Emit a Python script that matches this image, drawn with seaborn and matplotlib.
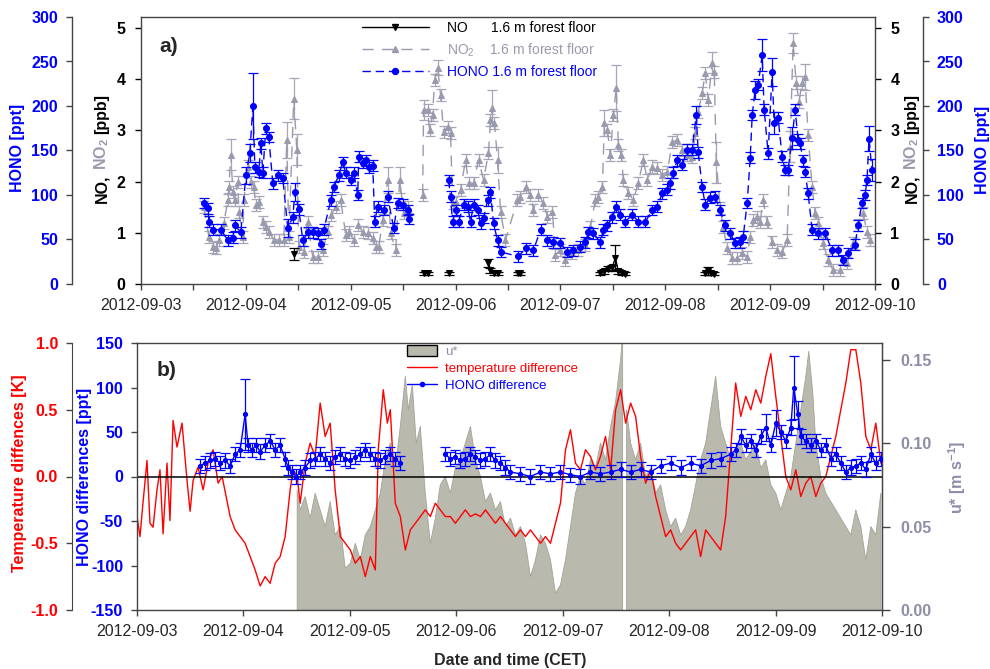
import numpy as np
import pandas as pd
import matplotlib
matplotlib.use("Agg")
import matplotlib.pyplot as plt
import matplotlib.dates as mdates
from matplotlib.lines import Line2D
from matplotlib.patches import Patch
import seaborn as sns

START = pd.Timestamp("2012-09-03")

# ---------------- panel a) data (time in days since 2012-09-03 00:00 CET) ----------------
HONO_T = [0.600,0.638,0.648,0.686,0.762,0.829,0.876,0.895,0.952,1.000,1.038,1.067,1.086,1.124,1.143,1.162,1.190,1.219,
          1.257,1.305,1.352,1.400,1.448,1.467,1.505,1.543,1.590,1.638,1.686,1.714,1.743,1.810,1.838,1.886,1.924,1.952,
          2.000,2.029,2.067,2.076,2.114,2.143,2.171,2.210,2.229,2.257,2.314,2.352,2.410,2.448,2.495,2.543,2.552,
          2.933,2.952,2.971,3.000,3.029,3.076,3.114,3.143,3.171,3.210,3.238,3.267,3.305,3.333,3.362,3.400,3.429,
          3.600,3.667,3.743,3.810,3.876,3.933,4.000,4.067,4.124,
          4.190,4.238,4.267,4.314,4.381,4.410,4.448,4.495,4.533,4.571,4.619,4.686,4.743,4.810,4.876,4.924,4.971,
          5.019,5.048,5.076,5.114,5.162,5.210,5.257,5.295,5.314,5.352,5.381,5.429,5.476,5.524,5.571,5.619,5.667,5.714,5.743,
          5.781,5.810,5.829,5.857,5.886,5.924,5.943,5.981,6.019,6.038,6.076,6.114,6.143,6.171,6.210,6.238,6.267,6.286,
          6.314,6.333,6.362,6.400,
          6.457,6.524,6.590,6.648,6.695,6.743,6.810,6.838,6.876,6.905,6.924,6.943,6.971]
HONO_V = [91,85,70,61,61,49,52,66,58,122,147,200,131,126,158,125,175,165,
          113,122,119,63,75,103,84,49,58,58,57,45,61,94,109,122,137,125,
          117,125,100,143,136,139,131,133,70,87,83,98,63,91,89,83,73,
          117,98,70,83,70,89,87,70,89,83,68,74,94,103,68,49,36,
          31,40,38,61,49,47,46,36,38,
          42,47,58,57,47,61,66,75,87,78,70,78,70,70,83,87,102,
          106,113,125,139,134,151,151,190,148,109,89,97,98,83,66,57,46,47,53,
          91,142,190,218,224,257,196,147,238,181,187,143,128,128,164,196,162,158,
          139,126,102,61,
          57,57,38,38,27,35,44,66,91,100,117,163,128]
HONO_ERR_DEFAULT = 6
HONO_ERR_LARGE = {1.067: 37, 1.000: 10, 1.038: 10, 1.400: 10, 1.467: 10, 5.295: 10, 5.857: 10,
                  5.924: 18, 6.019: 16, 6.038: 12, 6.210: 12, 6.943: 14, 6.971: 12}

NO2_T = [0.600,0.648,0.686,0.714,0.743,0.790,0.829,0.838,0.857,0.876,0.895,0.924,0.933,0.971,0.981,1.019,1.048,1.076,
         1.095,1.124,1.162,1.190,1.219,1.267,1.314,1.362,1.390,1.410,1.457,1.486,1.505,1.552,1.590,1.638,1.686,1.733,
         1.781,1.810,1.857,1.905,1.952,1.981,2.029,2.067,2.114,2.162,2.210,2.238,2.267,2.305,2.352,2.381,2.429,2.467,
         2.505,2.543,
         2.686,2.695,2.733,2.752,2.781,2.800,2.829,2.857,2.886,2.924,2.952,2.971,3.000,3.048,3.095,3.124,3.171,3.219,
         3.267,3.314,3.333,3.352,3.371,3.400,3.429,3.476,3.590,3.619,3.667,3.714,3.743,3.790,3.838,3.876,3.924,3.952,
         4.000,4.048,4.114,4.171,4.238,4.286,4.333,4.362,4.400,4.419,4.448,4.476,4.505,4.533,4.552,4.581,4.600,4.648,
         4.695,4.743,4.790,4.829,4.876,4.924,4.971,5.019,5.067,5.114,5.162,5.210,5.257,5.286,5.314,5.352,5.381,5.410,
         5.448,5.467,5.486,5.524,5.552,5.590,5.638,5.686,5.733,5.781,5.810,5.838,5.876,5.905,5.933,5.971,6.019,6.067,
         6.114,6.162,6.190,6.219,6.248,6.276,6.305,6.333,6.362,6.400,6.429,6.457,6.505,6.552,6.600,6.667,6.733,6.790,
         6.838,6.886,6.924,6.952]
NO2_V = [1.50,0.92,0.72,0.70,0.86,1.19,1.64,1.89,2.52,1.80,1.64,1.99,1.41,0.92,1.64,2.29,1.99,1.89,
         1.54,1.60,1.21,1.11,1.02,0.86,0.86,0.86,2.81,0.92,3.61,2.62,0.72,0.62,1.21,0.53,0.53,0.66,
         1.02,1.35,1.50,1.64,0.96,1.02,0.86,1.15,1.02,0.99,0.90,0.72,0.72,1.25,2.03,0.99,0.66,2.03,
         1.39,1.50,
         1.74,3.40,3.40,3.01,3.30,3.98,4.22,3.69,2.97,3.07,2.95,1.58,1.60,1.84,2.42,1.97,1.97,2.42,
         2.03,2.56,3.20,3.44,3.14,2.42,1.41,0.86,1.64,1.70,1.89,1.74,1.45,1.74,1.58,1.31,1.41,0.57,
         0.66,0.47,0.61,0.66,0.76,1.11,1.64,1.70,1.89,3.14,3.01,2.52,3.30,3.83,2.71,2.52,2.03,1.78,
         1.64,1.97,2.42,2.03,2.29,2.27,2.13,2.19,2.77,2.81,2.62,2.52,2.48,2.95,3.36,3.73,4.12,3.59,
         4.32,4.14,2.38,1.48,1.11,0.70,0.51,0.51,0.61,0.53,0.92,1.25,1.31,1.21,1.64,1.21,0.82,0.66,
         0.62,0.86,2.68,4.70,3.93,3.56,3.93,4.04,2.91,1.89,1.39,1.19,0.80,0.47,0.27,0.27,0.41,0.80,
         1.15,1.39,1.02,0.86]
NO2_ERR_DEFAULT = 0.12
NO2_ERR_LARGE = {0.857: 0.30, 1.390: 0.35, 1.457: 0.40, 1.486: 0.30, 2.352: 0.25, 2.467: 0.25,
                 2.695: 0.20, 2.829: 0.15, 3.352: 0.35, 3.400: 0.25, 4.419: 0.25, 4.533: 0.45,
                 5.448: 0.20, 5.486: 0.40, 6.190: 0.30, 6.219: 0.20, 6.333: 0.25}

NO_T = [1.457, 2.695, 2.733, 2.933, 3.314, 3.333, 3.362, 3.400, 3.600, 3.619,
        4.381, 4.419, 4.457, 4.495, 4.524, 4.552, 4.590, 4.619, 5.381, 5.410, 5.438, 5.467]
NO_V = [0.59, 0.21, 0.21, 0.21, 0.41, 0.27, 0.21, 0.21, 0.21, 0.21,
        0.21, 0.25, 0.30, 0.33, 0.51, 0.25, 0.21, 0.20, 0.21, 0.25, 0.21, 0.20]
NO_ERR = [0.12, 0.03, 0.03, 0.03, 0.08, 0.05, 0.03, 0.03, 0.03, 0.03,
          0.03, 0.05, 0.05, 0.05, 0.25, 0.05, 0.04, 0.03, 0.03, 0.08, 0.03, 0.03]

# ---------------- panel b) data ----------------
TD_T = [0.000,0.028,0.056,0.094,0.122,0.151,0.188,0.216,0.245,0.282,0.310,0.339,0.376,0.423,0.470,0.499,0.527,0.574,
        0.621,0.668,0.715,0.762,0.800,0.837,0.875,0.922,0.969,1.016,1.063,1.110,1.157,1.204,1.251,1.298,1.345,1.392,
        1.439,1.467,1.505,1.533,1.580,1.627,1.674,1.721,1.768,1.815,1.862,1.910,1.957,2.004,2.051,2.098,2.145,2.192,
        2.239,2.267,2.314,2.352,2.380,2.427,2.474,2.521,2.568,2.615,2.662,2.709,2.756,2.803,2.850,2.897,2.944,2.991,
        3.038,3.085,3.133,3.180,3.227,3.274,3.321,3.368,3.415,3.462,3.509,3.556,3.603,3.650,3.697,3.744,3.791,3.838,
        3.885,3.932,3.979,4.026,4.073,4.120,4.167,4.214,4.261,4.308,4.355,4.402,4.450,4.497,4.544,4.591,4.638,4.685,
        4.732,4.779,4.826,4.873,4.920,4.967,5.014,5.061,5.108,5.155,5.202,5.249,5.296,5.343,5.390,5.437,5.484,5.531,
        5.578,5.625,5.673,5.720,5.767,5.814,5.861,5.908,5.955,6.002,6.049,6.096,6.143,6.190,6.237,6.284,6.331,6.378,
        6.425,6.472,6.519,6.566,6.613,6.660,6.707,6.754,6.801,6.848,6.895,6.942,6.989]
TD_V = [-0.30,-0.45,-0.20,0.12,-0.35,-0.38,-0.10,0.05,-0.43,0.10,-0.33,0.42,0.22,0.40,-0.03,-0.26,-0.03,0.07,
        -0.10,0.10,0.20,-0.05,0.00,-0.15,-0.30,-0.40,-0.45,-0.50,-0.60,-0.70,-0.82,-0.75,-0.80,-0.65,-0.60,-0.45,
        -0.10,0.05,0.00,-0.20,0.10,0.25,0.15,0.55,0.30,0.40,-0.10,-0.45,-0.50,-0.55,-0.65,-0.60,-0.75,-0.60,
        -0.70,0.20,0.65,0.40,0.50,-0.20,-0.30,-0.55,-0.40,-0.35,-0.30,-0.25,-0.30,-0.20,-0.25,-0.30,-0.30,-0.35,
        -0.30,-0.25,-0.30,-0.28,-0.30,-0.25,-0.30,-0.35,-0.30,-0.35,-0.40,-0.45,-0.40,-0.45,-0.40,-0.45,-0.50,-0.45,
        -0.50,-0.35,-0.20,0.20,0.35,0.10,0.05,0.20,0.15,0.05,0.15,0.30,0.05,0.50,0.65,0.40,0.55,0.45,
        0.15,-0.05,0.05,-0.15,-0.30,-0.45,-0.40,-0.50,-0.55,-0.50,-0.45,-0.40,-0.60,-0.40,-0.45,-0.50,-0.55,-0.30,
        0.20,0.70,0.45,0.60,0.50,0.65,0.55,0.75,0.92,0.60,0.30,0.00,-0.10,0.05,-0.15,-0.05,0.00,-0.15,
        -0.05,0.00,0.15,0.30,0.50,0.70,0.95,0.95,0.70,0.30,0.20,0.40,0.10]

HD_T = [0.592,0.639,0.687,0.734,0.781,0.828,0.875,0.922,0.969,1.016,1.044,1.081,1.119,1.157,1.204,1.251,1.298,1.345,
        1.392,1.420,1.457,1.496,1.533,1.580,1.627,1.674,1.721,1.768,1.815,1.862,1.910,1.957,2.004,2.051,2.098,2.145,
        2.192,2.239,2.286,2.333,2.380,2.427,2.474,
        2.897,2.944,2.991,3.038,3.085,3.133,3.180,3.227,3.274,3.321,3.368,3.415,3.462,3.509,3.603,3.697,3.791,3.885,
        3.979,4.073,4.167,4.261,4.355,4.450,4.544,4.638,4.732,4.826,4.920,5.014,5.108,5.202,5.296,5.390,5.484,5.578,
        5.625,5.673,5.720,5.767,5.814,5.861,5.908,5.955,6.002,6.049,6.096,6.143,6.171,6.209,6.237,6.284,6.331,6.378,
        6.425,6.472,6.519,6.566,6.613,6.660,6.707,6.754,6.801,6.848,6.895,6.942,6.989]
HD_V = [12,15,18,20,15,18,12,25,30,70,35,30,35,28,35,40,30,35,
        20,10,5,0,5,10,18,20,25,20,15,22,25,20,18,22,25,30,
        25,20,18,22,25,20,15,
        25,20,22,18,20,25,22,18,20,25,18,15,10,5,3,0,5,3,
        5,2,0,5,3,5,8,5,8,5,12,15,10,15,12,18,20,25,
        30,45,35,40,30,45,55,35,60,50,40,55,100,70,45,40,35,40,
        30,35,20,25,15,5,10,12,15,8,25,15,20]
HD_ERR_DEFAULT = 8
HD_ERR_LARGE = {1.016: 40, 6.171: 35, 6.209: 15, 5.908: 15, 6.002: 15}

U_T = [1.505,1.533,1.580,1.627,1.674,1.721,1.768,1.815,1.862,1.910,1.957,2.004,2.051,2.098,2.145,2.192,2.239,2.286,
       2.333,2.380,2.427,2.474,2.521,2.549,2.587,2.624,2.662,2.709,2.756,2.803,2.850,2.897,2.944,2.991,3.038,3.085,
       3.133,3.180,3.227,3.274,3.321,3.368,3.415,3.462,3.509,3.556,3.603,3.650,3.697,3.744,3.791,3.838,3.885,3.932,
       3.979,4.026,4.073,4.120,4.167,4.214,4.261,4.308,4.355,4.402,4.450,4.497,4.544,4.563,4.582,4.600,4.638,4.685,
       4.732,4.779,4.826,4.873,4.920,4.967,5.014,5.061,5.108,5.155,5.202,5.249,5.296,5.343,5.390,5.437,5.484,5.531,
       5.578,5.625,5.673,5.720,5.767,5.814,5.861,5.908,5.955,6.002,6.049,6.096,6.143,6.190,6.237,6.284,6.312,6.350,
       6.378,6.425,6.472,6.519,6.566,6.613,6.660,6.707,6.754,6.801,6.848,6.895,6.942,6.989]
U_V = [0.072,0.060,0.068,0.055,0.070,0.060,0.050,0.065,0.045,0.050,0.025,0.028,0.040,0.030,0.045,0.050,0.060,0.070,
       0.090,0.100,0.085,0.110,0.140,0.120,0.135,0.100,0.110,0.070,0.040,0.055,0.075,0.080,0.070,0.085,0.090,0.100,
       0.110,0.090,0.080,0.065,0.070,0.060,0.065,0.050,0.055,0.045,0.050,0.040,0.020,0.030,0.045,0.040,0.030,0.010,
       0.015,0.030,0.050,0.070,0.080,0.075,0.090,0.085,0.100,0.090,0.110,0.125,0.150,0.165,np.nan,0.120,0.100,0.090,
       0.100,0.080,0.085,0.070,0.075,0.060,0.050,0.055,0.045,0.050,0.060,0.075,0.090,0.100,0.120,0.140,0.110,0.100,
       0.090,0.095,0.100,0.090,0.095,0.100,0.085,0.090,0.075,0.070,0.060,0.070,0.080,0.100,0.120,0.140,0.155,0.130,
       0.100,0.080,0.070,0.065,0.060,0.055,0.050,0.045,0.060,0.050,0.030,0.050,0.045,0.070]

# ---------------- style ----------------
sns.set_style("ticks")
plt.rcParams["font.family"] = ["Liberation Sans", "DejaVu Sans"]
plt.rcParams["mathtext.default"] = "regular"

BLUE = "#0000FF"
RED = "#FF0000"
GREY = "#9A9AAE"
GREY_ERR = "#A6A6B8"
UGREY = "#8E8EA8"
UFILL = "#B9B9AD"
SPINE = "#444444"

W, H = 990, 669
fig = plt.figure(figsize=(W / 100, H / 100), dpi=100)


def rect(l, t, r, b):
    return [l / W, 1 - b / H, (r - l) / W, (b - t) / H]


def to_time(days):
    return START + pd.to_timedelta(np.asarray(days, float), unit="D")


def seg_frame(t, v, gap):
    t = np.asarray(t, float)
    v = np.asarray(v, float)
    seg = np.concatenate([[0], np.cumsum(np.diff(t) > gap)])
    return pd.DataFrame({"time": to_time(t), "val": v, "seg": seg})


def errs(t, default, large):
    return np.array([large.get(round(x, 3), default) for x in t], float)


def px2pt(p):
    return p * 0.72


TICKFS = 11.5
MS = 4.3

# ======================= panel a =======================
ax1 = fig.add_axes(rect(141, 17, 875, 284))
axh = ax1.twinx()
# spine positions first (moving a spine resets its ticks)
axh.spines["left"].set_position(("outward", px2pt(141 - 72)))
axh.spines["right"].set_position(("outward", px2pt(923 - 875)))
axh.spines["top"].set_visible(False)
axh.spines["bottom"].set_visible(False)

# NO2
df = seg_frame(NO2_T, NO2_V, 0.13)
ax1.errorbar(df["time"], df["val"], yerr=errs(NO2_T, NO2_ERR_DEFAULT, NO2_ERR_LARGE), fmt="none",
             ecolor=GREY_ERR, elinewidth=0.9, capsize=3.5, capthick=0.9, zorder=2)
sns.lineplot(data=df, x="time", y="val", units="seg", estimator=None, ax=ax1, color=GREY, lw=1,
             linestyle=(0, (8, 6)), marker="^", markersize=MS, mec=GREY, mfc=GREY, legend=False, zorder=3)
# NO
df = seg_frame(NO_T, NO_V, 0.13)
ax1.errorbar(df["time"], df["val"], yerr=NO_ERR, fmt="none", ecolor="k", elinewidth=0.9,
             capsize=3.5, capthick=0.9, zorder=4)
sns.lineplot(data=df, x="time", y="val", units="seg", estimator=None, ax=ax1, color="k", lw=1,
             marker="v", markersize=MS, mec="k", mfc="k", legend=False, zorder=5)
# HONO
df = seg_frame(HONO_T, HONO_V, 0.3)
axh.errorbar(df["time"], df["val"], yerr=errs(HONO_T, HONO_ERR_DEFAULT, HONO_ERR_LARGE), fmt="none",
             ecolor=BLUE, elinewidth=0.9, capsize=3.5, capthick=0.9, zorder=2)
sns.lineplot(data=df, x="time", y="val", units="seg", estimator=None, ax=axh, color=BLUE, lw=1,
             linestyle=(0, (6, 3.5)), marker="o", markersize=MS, mec=BLUE, mfc=BLUE, legend=False, zorder=3)

for a in (ax1, axh):
    a.set_xlabel("")
    a.set_ylabel("")
ax1.set_xlim(START, START + pd.Timedelta(days=7))
ax1.set_ylim(0, 5.21)
axh.set_ylim(0, 300)

ax1.tick_params(axis="y", left=True, right=True, labelleft=True, labelright=True, direction="out",
                length=4, width=1, color="k", pad=7)
ax1.set_yticks(range(6), [str(i) for i in range(6)], fontweight="bold", fontsize=TICKFS, color="k")
ax1.xaxis.set_major_locator(mdates.DayLocator())
ax1.xaxis.set_minor_locator(mdates.HourLocator(byhour=[12]))
ax1.xaxis.set_major_formatter(mdates.DateFormatter("%Y-%m-%d"))
ax1.tick_params(axis="x", which="both", direction="out", length=4, width=1, color=SPINE,
                labelsize=TICKFS, pad=6)
for s in ax1.spines.values():
    s.set_color(SPINE)
    s.set_linewidth(1)

axh.tick_params(axis="y", left=True, right=True, labelleft=True, labelright=True, direction="out",
                length=4, width=1, color=SPINE, pad=6)
axh.set_yticks(range(0, 301, 50), [str(i) for i in range(0, 301, 50)], fontweight="bold",
               fontsize=TICKFS, color=BLUE)
for k in ("left", "right"):
    axh.spines[k].set_color(SPINE)
    axh.spines[k].set_linewidth(1)

# legend a
hands = [Line2D([], [], color="k", lw=1, marker="v", ms=MS),
         Line2D([], [], color=GREY, lw=1, ls=(0, (8, 6)), marker="^", ms=MS),
         Line2D([], [], color=BLUE, lw=1, ls=(0, (6, 3.5)), marker="o", ms=MS)]
labs = ["NO      1.6 m forest floor", "NO$_2$    1.6 m forest floor", "HONO 1.6 m forest floor"]
leg = axh.legend(hands, labs, loc="upper left", bbox_to_anchor=(362 / W, 1 - 21 / H),
                 bbox_transform=fig.transFigure, frameon=False, fontsize=10, handlelength=4.8,
                 handletextpad=1.3, labelspacing=0.45, borderpad=0, borderaxespad=0)
for t, c in zip(leg.get_texts(), ["k", GREY, BLUE]):
    t.set_color(c)

# ======================= panel b =======================
axb = fig.add_axes(rect(137, 343, 882, 610))
axt = axb.twinx()
axu = axb.twinx()
axt.spines["left"].set_position(("outward", px2pt(137 - 72)))
for k in ("right", "top", "bottom"):
    axt.spines[k].set_visible(False)
for k in ("left", "top", "bottom"):
    axu.spines[k].set_visible(False)
axu.set_zorder(1)
axt.set_zorder(2)
axb.set_zorder(3)
for a in (axb, axt, axu):
    a.patch.set_visible(False)

# u*
axu.fill_between(to_time(U_T), 0, np.asarray(U_V, float), facecolor=UFILL, edgecolor="#A3A398",
                 lw=0.6, zorder=1)
# temperature difference
sns.lineplot(x=to_time(TD_T), y=TD_V, ax=axt, color=RED, lw=1, estimator=None, legend=False)
# HONO difference
df = seg_frame(HD_T, HD_V, 0.3)
axb.axhline(0, color="k", lw=1.1, zorder=1)
axb.errorbar(df["time"], df["val"], yerr=errs(HD_T, HD_ERR_DEFAULT, HD_ERR_LARGE), fmt="none",
             ecolor=BLUE, elinewidth=0.9, capsize=3.5, capthick=0.9, zorder=2)
sns.lineplot(data=df, x="time", y="val", units="seg", estimator=None, ax=axb, color=BLUE, lw=1,
             marker="o", markersize=3, mec=BLUE, mfc=BLUE, legend=False, zorder=3)

for a in (axb, axt, axu):
    a.set_xlabel("")
    a.set_ylabel("")
axb.set_xlim(START, START + pd.Timedelta(days=7))
axb.set_ylim(-150, 150)
axt.set_ylim(-1, 1)
axu.set_ylim(0, 0.16)

axb.tick_params(axis="y", left=True, right=False, direction="out", length=4, width=1, color=SPINE, pad=6)
axb.set_yticks(range(-150, 151, 50), [str(i) for i in range(-150, 151, 50)], fontweight="bold",
               fontsize=TICKFS, color=BLUE)
axb.xaxis.set_major_locator(mdates.DayLocator())
axb.xaxis.set_major_formatter(mdates.DateFormatter("%Y-%m-%d"))
axb.tick_params(axis="x", direction="out", length=4, width=1, color=SPINE, labelsize=TICKFS, pad=6)
for s in axb.spines.values():
    s.set_color(SPINE)
    s.set_linewidth(1)

axt.yaxis.set_ticks_position("left")
axt.tick_params(axis="y", left=True, right=False, labelleft=True, labelright=False, direction="out",
                length=4, width=1, color=SPINE, pad=6)
axt.set_yticks([-1, -0.5, 0, 0.5, 1], ["-1.0", "-0.5", "0.0", "0.5", "1.0"], fontweight="bold",
               fontsize=TICKFS, color=RED)
axt.spines["left"].set_color(SPINE)

axu.tick_params(axis="y", right=True, left=False, direction="out", length=6, width=1, color=SPINE, pad=7)
axu.set_yticks([0, 0.05, 0.10, 0.15], ["0.00", "0.05", "0.10", "0.15"], fontweight="bold",
               fontsize=TICKFS, color=UGREY)
axu.spines["right"].set_color(SPINE)

# legend b
hands_b = [Patch(facecolor=UFILL, edgecolor="k", lw=1),
           Line2D([], [], color=RED, lw=1),
           Line2D([], [], color=BLUE, lw=1, marker="o", ms=3)]
leg_b = axb.legend(hands_b, ["u*", "temperature difference", "HONO difference"], loc="upper left",
                   bbox_to_anchor=(407 / W, 1 - 345 / H), bbox_transform=fig.transFigure, frameon=False,
                   fontsize=9.5, handlelength=2.3, handleheight=0.85, handletextpad=0.6, labelspacing=0.33,
                   borderpad=0, borderaxespad=0)
for t, c in zip(leg_b.get_texts(), [UGREY, RED, BLUE]):
    t.set_color(c)

# ======================= texts =======================
LABFS = 11.5
fig.text(169 / W, 1 - 46 / H, "a)", fontsize=15, fontweight="bold", ha="center", va="center")
fig.text(167 / W, 1 - 371 / H, "b)", fontsize=15, fontweight="bold", ha="center", va="center")

fig.text(18 / W, 1 - 148 / H, "HONO [ppt]", rotation=90, color=BLUE, fontsize=LABFS,
         fontweight="bold", ha="center", va="center")
fig.text(982 / W, 1 - 150 / H, "HONO [ppt]", rotation=90, color=BLUE, fontsize=LABFS,
         fontweight="bold", ha="center", va="center")
fig.text(20 / W, 1 - 473 / H, "Temperature diffences [K]", rotation=90, color=RED, fontsize=LABFS,
         fontweight="bold", ha="center", va="center")
fig.text(85 / W, 1 - 477 / H, "HONO differences [ppt]", rotation=90, color=BLUE, fontsize=LABFS,
         fontweight="bold", ha="center", va="center")
fig.text(957 / W, 1 - 477 / H, "u* [m s$^{-1}$]", rotation=90, color=UGREY, fontsize=LABFS,
         fontweight="bold", ha="center", va="center")
fig.text(510 / W, 1 - 661 / H, "Date and time (CET)", fontsize=LABFS, fontweight="bold",
         ha="center", va="center")

renderer = fig.canvas.get_renderer()


def stacked_label(x_base, y_bottom, pieces):
    y = y_bottom
    for s, c, gap in pieces:
        t = fig.text(x_base / W, 1 - y / H, s, color=c, rotation=90, rotation_mode="anchor",
                     ha="left", va="baseline", fontsize=LABFS, fontweight="bold")
        ext = t.get_window_extent(renderer)
        y -= ext.height + gap


NOLAB = [("NO,", "k", 4.5), ("NO$_2$", GREY, 4.5), ("[ppb]", "k", 0)]
stacked_label(106, 203, NOLAB)
stacked_label(916, 203, NOLAB)

fig.savefig("out.png", dpi=100)
